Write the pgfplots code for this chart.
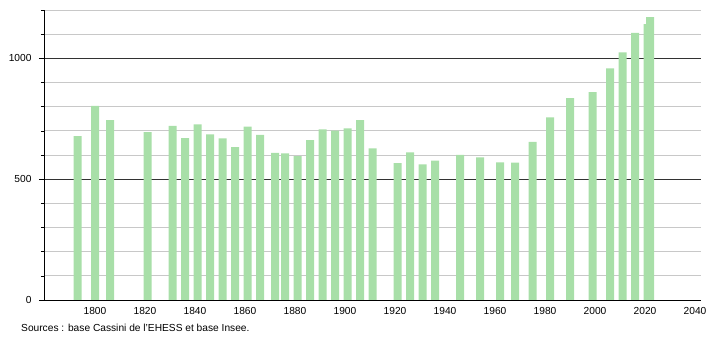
\documentclass[border=0pt]{standalone}
\usepackage{pgfplots}
\pgfplotsset{compat=1.18}
\usepackage{fontspec}
\setmainfont{Liberation Sans}
\definecolor{bargreen}{RGB}{168,223,168}
\definecolor{minorgrid}{RGB}{200,200,200}
\definecolor{majorgrid}{RGB}{50,50,50}
\begin{document}
\begin{tikzpicture}[x=1pt,y=1pt]
\useasboundingbox (0,0) rectangle (710,340);
\begin{axis}[
  at={(44pt,40pt)}, anchor=south west,
  scale only axis, width=657pt, height=290pt,
  xmin=1779.6, xmax=2042.4, ymin=0, ymax=1200,
  axis x line=bottom, axis y line=left,
  axis line style={-, black, line width=0.8pt},
  xtick={1800,1820,...,2040},
  xtick style={draw=none},
  xticklabel style={font=\fontsize{10.2}{11}\selectfont, yshift=1pt},
  ytick={0,500,1000},
  minor ytick={100,200,300,400,600,700,800,900,1100,1200},
  tick align=outside,
  major tick length=5pt, minor tick length=3pt,
  ytick style={black, line width=0.6pt},
  yticklabel style={font=\fontsize{10.2}{11}\selectfont, xshift=-4pt},
  ymajorgrids, yminorgrids,
  major grid style={majorgrid, line width=0.8pt},
  minor grid style={minorgrid, line width=0.8pt},
  /pgf/number format/assume math mode=true,
  /pgf/number format/1000 sep={},
  xticklabel={\pgfmathprintnumber[1000 sep={},fixed]{\tick}},
  ybar, bar width=8pt,
  clip=false,
]
\addplot[fill=bargreen, draw=none] coordinates {
(1793,678) (1800,803) (1806,744) (1821,695) (1831,720) (1836,670)
(1841,727) (1846,685) (1851,669) (1856,633) (1861,717) (1866,683)
(1872,609) (1876,607) (1881,595) (1886,662) (1891,706) (1896,701)
(1901,710) (1906,744) (1911,627) (1921,566) (1926,611) (1931,561)
(1936,577) (1946,601) (1954,590) (1962,569) (1968,568) (1975,654)
(1982,756) (1990,835) (1999,860) (2006,958) (2011,1025) (2016,1105)
(2021,1142) (2022,1170)
};
\end{axis}
\node[anchor=base west, font=\fontsize{10.2}{11}\selectfont, inner sep=0pt] at (21,8) {Sources : base Cassini de l'EHESS et base Insee.};
\end{tikzpicture}
\end{document}
